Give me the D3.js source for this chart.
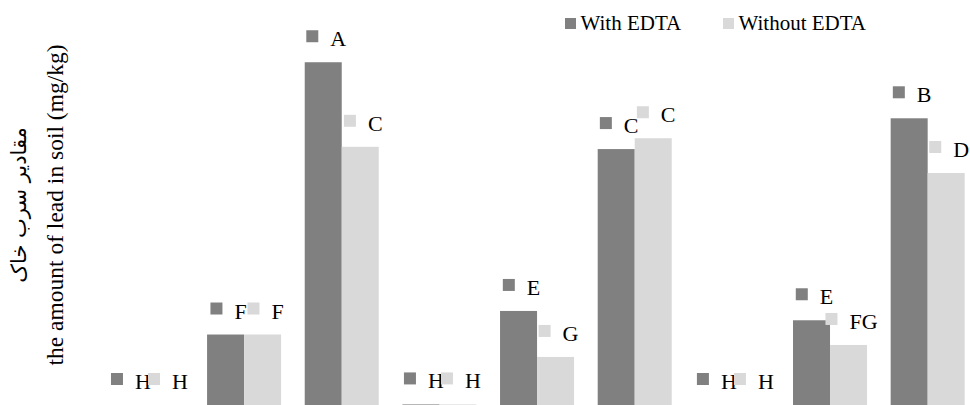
<!DOCTYPE html>
<html>
<head>
<meta charset="utf-8">
<script src="https://cdn.jsdelivr.net/npm/d3@7"></script>
<style>
  html, body { margin: 0; padding: 0; background: #fff; }
  svg { display: block; }
</style>
</head>
<body>
<div id="chart"></div>
<script>
// treatments (axis labels are cut off in the source picture)
const categories = ["T1", "T2", "T3", "T4", "T5", "T6", "T7", "T8", "T9"];
const seriesNames = ["With EDTA", "Without EDTA"];

// lead in soil, mg/kg
const withEdta = [0, 37.1, 180.4, 0.3, 49.5, 134.7, 0, 44.6, 150.9];
const withoutEdta = [0, 37.1, 135.9, 0.3, 25.3, 140.4, 0, 31.6, 122.1];

// significance letters
const withLetters = ["H", "F", "A", "H", "E", "C", "H", "E", "B"];
const withoutLetters = ["H", "F", "C", "H", "G", "C", "H", "FG", "D"];

const colors = ["#808080", "#d9d9d9"];

const width = 970;
const height = 405;
const serif = "\"Liberation Serif\", \"Times New Roman\", serif";

const svg = d3.select("#chart")
  .append("svg")
  .attr("width", width)
  .attr("height", height)
  .attr("viewBox", `0 0 ${width} ${height}`);

svg.append("rect").attr("width", width).attr("height", height).attr("fill", "#fff");

const x = d3.scaleBand()
  .domain(categories)
  .range([97.6, 976.5])
  .paddingInner(0.242)
  .paddingOuter(0.121);

const xs = d3.scaleBand()
  .domain([0, 1])
  .range([0, x.bandwidth()]);

const y = d3.scaleLinear()
  .domain([0, 200])
  .range([405, 25]);

const rows = categories.map((c, i) => ({
  cat: c,
  values: [withEdta[i], withoutEdta[i]],
  letters: [withLetters[i], withoutLetters[i]]
}));

// bars, one layer per series
[0, 1].forEach((s) => {
  svg.append("g")
    .selectAll("rect")
    .data(rows)
    .join("rect")
    .attr("x", (d) => x(d.cat) + xs(s))
    .attr("y", (d) => y(d.values[s]))
    .attr("width", xs.bandwidth())
    .attr("height", (d) => y(0) - y(d.values[s]))
    .attr("fill", colors[s]);
});

// data labels with legend key, dark layer first so light keys sit on top
const sq = 12;
const gap = 12;
[0, 1].forEach((s) => {
  const g = svg.append("g");
  rows.forEach((d) => {
    const cx = x(d.cat) + xs(s) + xs.bandwidth() / 2;
    const top = y(d.values[s]);
    const lbl = g.append("g");
    const t = lbl.append("text")
      .style("font-family", serif)
      .style("font-size", "22px")
      .attr("fill", "#000")
      .text(d.letters[s]);
    const tw = t.node().getComputedTextLength();
    const total = sq + gap + tw;
    const x0 = cx - total / 2 + 3;
    lbl.insert("rect", "text")
      .attr("x", x0)
      .attr("y", top - 32)
      .attr("width", sq)
      .attr("height", sq)
      .attr("fill", colors[s]);
    t.attr("x", x0 + sq + gap).attr("y", top - 16);
  });
});

// legend
const legendX = [565, 723];
const legend = svg.append("g");
seriesNames.forEach((name, i) => {
  legend.append("rect")
    .attr("x", legendX[i])
    .attr("y", 18)
    .attr("width", 11)
    .attr("height", 11)
    .attr("fill", colors[i]);
  legend.append("text")
    .attr("x", legendX[i] + 15.5)
    .attr("y", 30)
    .style("font-family", serif)
    .style("font-size", "21px")
    .attr("fill", "#000")
    .text(name);
});

// y axis title, Persian above English
const titleY = 205;
svg.append("text")
  .attr("transform", `translate(26,${titleY}) rotate(-90)`)
  .attr("text-anchor", "middle")
  .style("font-family", "\"DejaVu Sans\", sans-serif")
  .style("font-size", "21px")
  .attr("fill", "#000")
  .attr("direction", "rtl")
  .text("مقادیر سرب خاک");

svg.append("text")
  .attr("transform", `translate(62.5,${titleY}) rotate(-90)`)
  .attr("text-anchor", "middle")
  .style("font-family", serif)
  .style("font-size", "23.5px")
  .attr("fill", "#000")
  .text("the amount of lead in soil (mg/kg)");
</script>
</body>
</html>
